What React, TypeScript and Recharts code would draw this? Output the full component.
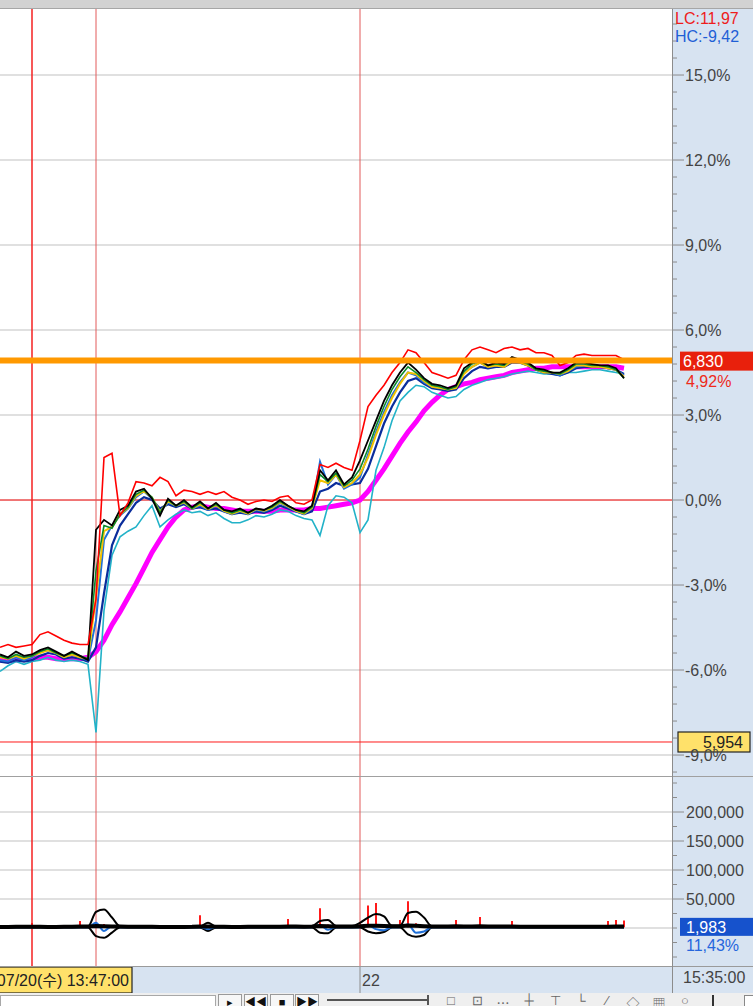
import React from "react";
import { ComposedChart, Line, Bar, XAxis, YAxis, ReferenceLine } from "recharts";

const FONT = "'Liberation Sans', 'Noto Sans CJK KR', sans-serif";
const AXIS_X = 672;
const PANEL = "#d7e3f1";

// time slots (one per 8px column), 0..78
const slots = Array.from({ length: 79 }, (_, i) => i);

// price moving averages, % change vs. previous close
const red = [
  -5.2, -5.1, -5.2, -5.15, -5.1, -4.75, -4.65, -4.8, -4.95, -5.05, -5.1, -5.1,
  -3.5, 1.5, 1.65, -0.55, -0.1, 0.65, 0.6, 0.5, 0.8, 0.65, 0.15, 0.35, 0.3, 0.2, 0.3, 0.2, 0.3, 0.1, 0, -0.15, -0.05, 0, -0.05, 0.1, 0.15, -0.1, -0.15, 0,
  1.25, 1.15, 1.3, 1.15, 1.05, 2.1, 3.3, 3.7, 4.05, 4.5, 4.85, 5.3, 5.2, 4.85, 4.5, 4.4, 4.3, 4.4, 4.95, 5.3, 5.4, 5.3, 5.2, 5.35, 5.4, 5.3, 5.35, 5.2, 5.2, 5.1, 4.75, 4.85, 5.1, 5.15, 5.1, 5.1, 5.1, 5.1, 4.95,
];
const black = [
  -5.45, -5.55, -5.35, -5.5, -5.45, -5.3, -5.2, -5.35, -5.5, -5.35, -5.5, -5.65,
  -1.05, -0.7, -0.9, -0.35, -0.2, 0.3, 0.4, 0.05, -0.55, 0.05, -0.2, 0, -0.25, -0.05, -0.3, -0.1, -0.35, -0.4, -0.3, -0.45, -0.3, -0.35, -0.2, 0, -0.2, -0.35, -0.4, -0.2,
  1.05, 0.7, 1.05, 0.55, 0.8, 1.4, 2.1, 2.8, 3.5, 4.05, 4.5, 4.85, 4.6, 4.3, 4.1, 4.05, 3.95, 4.05, 4.65, 4.85, 4.95, 4.75, 4.85, 4.8, 5.05, 4.95, 4.85, 4.65, 4.6, 4.5, 4.5, 4.65, 4.85, 4.85, 4.8, 4.75, 4.75, 4.65, 4.3,
];
const green = [
  -5.5, -5.6, -5.45, -5.55, -5.5, -5.35, -5.25, -5.4, -5.5, -5.4, -5.5, -5.6,
  -2.5, -0.9, -1.0, -0.5, -0.25, 0.2, 0.35, 0.1, -0.45, 0, -0.2, -0.05, -0.3, -0.1, -0.3, -0.15, -0.35, -0.45, -0.35, -0.45, -0.3, -0.35, -0.25, -0.05, -0.2, -0.35, -0.45, -0.25,
  0.9, 0.65, 0.95, 0.5, 0.7, 1.1, 1.8, 2.6, 3.3, 3.9, 4.35, 4.7, 4.5, 4.25, 4.05, 4.0, 3.9, 4.0, 4.55, 4.8, 4.9, 4.75, 4.8, 4.75, 5.0, 4.9, 4.8, 4.6, 4.55, 4.5, 4.45, 4.6, 4.8, 4.8, 4.75, 4.75, 4.7, 4.6, 4.3,
];
const yellow = [
  -5.55, -5.6, -5.5, -5.6, -5.5, -5.4, -5.3, -5.4, -5.55, -5.45, -5.55, -5.6,
  -3.4, -1.1, -0.95, -0.5, -0.28, 0.15, 0.32, 0.08, -0.42, -0.05, -0.2, -0.08, -0.3, -0.15, -0.32, -0.18, -0.38, -0.48, -0.38, -0.48, -0.32, -0.38, -0.28, -0.08, -0.22, -0.38, -0.48, -0.28,
  0.7, 0.6, 0.9, 0.45, 0.6, 0.9, 1.5, 2.3, 3.0, 3.6, 4.1, 4.5, 4.45, 4.2, 4.0, 3.95, 3.9, 3.95, 4.45, 4.7, 4.85, 4.7, 4.75, 4.7, 4.9, 4.85, 4.75, 4.6, 4.5, 4.5, 4.45, 4.55, 4.75, 4.75, 4.7, 4.7, 4.65, 4.6, 4.35,
];
const blue = [
  -5.65, -5.7, -5.55, -5.65, -5.55, -5.35, -5.3, -5.4, -5.55, -5.45, -5.55, -5.65,
  -4.25, -1.4, -0.9, -0.55, -0.3, 0.1, 0.3, 0.05, -0.4, -0.1, -0.2, -0.1, -0.3, -0.2, -0.35, -0.2, -0.4, -0.5, -0.4, -0.5, -0.35, -0.4, -0.3, -0.1, -0.25, -0.4, -0.5, -0.3,
  1.35, 0.55, 0.9, 0.4, 0.55, 0.8, 1.6, 2.4, 3.1, 3.7, 4.15, 4.5, 4.4, 4.15, 4.0, 3.95, 3.9, 4.0, 4.5, 4.7, 4.85, 4.7, 4.75, 4.75, 4.95, 4.9, 4.75, 4.6, 4.5, 4.5, 4.4, 4.55, 4.7, 4.75, 4.75, 4.7, 4.65, 4.6, 4.4,
];
const navy = [
  -5.7, -5.75, -5.65, -5.7, -5.65, -5.5, -5.4, -5.45, -5.6, -5.55, -5.6, -5.7,
  -5.2, -3.3, -1.6, -0.9, -0.5, -0.1, 0.1, 0, -0.3, -0.15, -0.25, -0.15, -0.3, -0.25, -0.35, -0.3, -0.4, -0.5, -0.45, -0.5, -0.4, -0.45, -0.35, -0.2, -0.3, -0.4, -0.5, -0.4,
  0.3, 0.4, 0.6, 0.5, 0.55, 0.6, 1.1, 1.9, 2.7, 3.3, 3.8, 4.2, 4.3, 4.1, 3.95, 3.9, 3.85, 3.9, 4.3, 4.55, 4.7, 4.65, 4.7, 4.7, 4.85, 4.85, 4.75, 4.6, 4.5, 4.45, 4.4, 4.5, 4.65, 4.7, 4.7, 4.7, 4.65, 4.6, 4.45,
];
const cyan = [
  -6.05, -5.85, -5.7, -5.8, -5.7, -5.65, -5.55, -5.65, -5.7, -5.65, -5.7, -5.8,
  -8.2, -3.9, -1.95, -1.3, -1.1, -0.95, -0.55, -0.2, -0.95, -0.7, -0.5, -0.35, -0.45, -0.4, -0.55, -0.45, -0.65, -0.8, -0.8, -0.7, -0.55, -0.6, -0.5, -0.35, -0.4, -0.55, -0.65, -0.7,
  -1.25, -0.2, 0.15, 0.1, -0.1, -1.15, -0.7, 1.05, 1.85, 2.8, 3.5, 3.8, 4.05, 4.0, 3.8, 3.7, 3.6, 3.65, 3.9, 4.05, 4.15, 4.25, 4.3, 4.35, 4.45, 4.5, 4.55, 4.5, 4.45, 4.45, 4.4, 4.5, 4.5, 4.55, 4.6, 4.6, 4.55, 4.5, 4.45,
];
const magenta = [
  -5.65, -5.65, -5.65, -5.6, -5.6, -5.55, -5.55, -5.6, -5.6, -5.6, -5.6, -5.55,
  -5.35, -4.95, -4.4, -3.95, -3.45, -2.95, -2.4, -1.85, -1.4, -0.95, -0.6, -0.35, -0.25, -0.2, -0.25, -0.3, -0.3, -0.35, -0.4, -0.4, -0.4, -0.4, -0.4, -0.35, -0.35, -0.35, -0.35, -0.3,
  -0.3, -0.25, -0.2, -0.15, -0.1, 0, 0.3, 0.7, 1.1, 1.55, 2.0, 2.4, 2.75, 3.15, 3.45, 3.7, 3.9, 4.0, 4.1, 4.15, 4.25, 4.3, 4.35, 4.4, 4.5, 4.55, 4.6, 4.65, 4.65, 4.7, 4.7, 4.7, 4.7, 4.7, 4.7, 4.7, 4.7, 4.7, 4.65,
];

// lower pane
const volBar = [
  2000, 1800, 2200, 2500, 8600, 2400, 2000, 1800, 2600, 2200, 12000, 3000,
  9000, 7000, 5000, 3000, 2500, 2200, 3800, 2000, 2500, 2000, 1800, 2200, 2000, 22000, 4000, 2500, 2000, 1800, 2200, 2000, 2400, 2000, 2600, 2400, 15500, 3000, 2500, 3500,
  34000, 6000, 4500, 3000, 3500, 9000, 39000, 43000, 6000, 4000, 14000, 46000, 8000, 5000, 3000, 2500, 3500, 14000, 4000, 3500, 19000, 4000, 3000, 2500, 12000, 2500, 2000, 2200, 2500, 2000, 1800, 2000, 2200, 2000, 2500, 3000, 12000, 14000, 13000,
];
const volBase = [
  1800, 1900, 2000, 2100, 2300, 2000, 1900, 1800, 2000, 2100, 2400, 2600,
  3500, 3200, 2800, 2400, 2200, 2000, 2100, 2000, 1900, 1900, 1800, 1900, 2000, 2600, 2800, 2200, 2000, 1900, 1900, 2000, 2000, 2100, 2000, 2100, 2600, 2400, 2300, 2500,
  3600, 3200, 2800, 2600, 2700, 3000, 3800, 4000, 3400, 3000, 3200, 4200, 3800, 3200, 2800, 2600, 2600, 2900, 2800, 2700, 3000, 2800, 2600, 2400, 2600, 2300, 2100, 2100, 2100, 2000, 2000, 2000, 2000, 2000, 2000, 2000, 2200, 2400, 2400,
];
const volUp = [
  2500, 2500, 2500, 2500, 2500, 2500, 2500, 2500, 2500, 2500, 2500, 2500,
  28000, 32000, 18000, 3000, 3000, 3000, 3000, 3000, 3000, 3000, 3000, 3000, 3000, 3000, 9000, 3000, 3000, 3000, 3000, 3000, 3000, 3000, 3000, 3000, 3000, 3000, 3000, 3000,
  12000, 14000, 3500, 3500, 3500, 9000, 18000, 24000, 20000, 4000, 4000, 26000, 28000, 18000, 3000, 3000, 3000, 3000, 3000, 3000, 3000, 3000, 3000, 3000, 3000, 3000, 3000, 3000, 3000, 3000, 3000, 3000, 3000, 3000, 3000, 3000, 3000, 3000, 3000,
];
const volDn = [
  800, 800, 800, 800, 800, 800, 800, 800, 800, 800, 800, 800,
  -14000, -17000, -8000, 800, 800, 800, 800, 800, 800, 800, 800, 800, 800, 800, -5000, 800, 800, 800, 800, 800, 800, 800, 800, 800, 800, 800, 800, 800,
  -8000, -9000, 800, 800, 800, 800, -6000, -9000, -7000, 800, 800, -11000, -15000, -12000, 800, 800, 800, 800, 800, 800, 800, 800, 800, 800, 800, 800, 800, 800, 800, 800, 800, 800, 800, 800, 800, 800, 800, 800, 800,
];
const volBlue = [
  1500, 1500, 1500, 1500, 1500, 1500, 1500, 1500, 1500, 1500, 1500, 1500,
  9000, -5000, 3000, 1500, 1500, 1500, 1500, 1500, 1500, 1500, 1500, 1500, 1500, 1500, -2000, 1500, 1500, 1500, 1500, 1500, 1500, 1500, 1500, 1500, 1500, 1500, 1500, 1500,
  5000, -3000, 1500, 1500, 1500, 1500, 5000, -2000, -4000, 1500, 1500, 6000, -8000, -6000, 1500, 1500, 1500, 1500, 1500, 1500, 1500, 1500, 1500, 1500, 1500, 1500, 1500, 1500, 1500, 1500, 1500, 1500, 1500, 1500, 1500, 1500, 1500, 1500, 1500,
];

// axis / marker values
const pctLabels = [-9, -6, -3, 0, 3, 6, 9, 12, 15];
const pctTicks = Array.from({ length: 45 }, (_, k) => Math.round((k - 16) * 6) / 10);
const volLabels = [50000, 100000, 150000, 200000];
const volTicks = Array.from({ length: 13 }, (_, k) => (k - 2) * 25000);
const vLines = [4, 12, 45];
const dayBreaks = [{ t: 45, label: "22" }];

const LAST_PRICE = 6830;
const LAST_CHANGE = 4.92;
const CROSS_PRICE = 5954;
const CROSS_CHANGE = -8.54;
const CROSS_SLOT = 12;
const CROSS_TIME = "07/20(수) 13:47:00";
const LAST_TIME = "15:35:00";
const LAST_VOL = 1983;
const VOL_PCT = 11.43;
const LC = 11.97;
const HC = -9.42;

const priceRows = slots.map((t, i) => ({
  t, red: red[i], black: black[i], green: green[i], yellow: yellow[i], blue: blue[i], navy: navy[i], cyan: cyan[i], magenta: magenta[i],
}));
const volRows = slots.map((t, i) => ({
  t, bar: volBar[i], base: volBase[i], up: volUp[i], dn: volDn[i], vb: volBlue[i],
}));

const comma = (v: number, d: number) => v.toFixed(d).replace(".", ",");
const fmtPct = (v: number) => comma(v, 1) + "%";
const fmtNum = (v: number) => v.toLocaleString("en-US");

function PctTick(props: any) {
  const { y, payload } = props;
  const v: number = payload.value;
  const major = pctLabels.includes(v);
  return (
    <g>
      <line x1={AXIS_X} x2={AXIS_X + (major ? 12 : 5)} y1={y} y2={y} stroke="#8c8c8c" />
      {major && (
        <text x={AXIS_X + 13} y={y + 6} fontSize={16} fill="#444">{fmtPct(v)}</text>
      )}
    </g>
  );
}

function VolTick(props: any) {
  const { y, payload } = props;
  const v: number = payload.value;
  const major = volLabels.includes(v);
  return (
    <g>
      <line x1={AXIS_X} x2={AXIS_X + (major ? 12 : 5)} y1={y} y2={y} stroke="#8c8c8c" />
      {major && (
        <text x={AXIS_X + 14} y={y + 6} fontSize={16} fill="#444">{fmtNum(v)}</text>
      )}
    </g>
  );
}

function DayTick(props: any) {
  const { x, payload } = props;
  const day = dayBreaks.find((d) => d.t === payload.value);
  return (
    <g>
      <line x1={x} x2={x} y1={189} y2={216} stroke="#8c8c8c" />
      <text x={x + 2} y={209} fontSize={16} fill="#444">{day ? day.label : ""}</text>
    </g>
  );
}

const lastTag = (p: any) => {
  const x = p.viewBox.x + p.viewBox.width + 8;
  const y = p.viewBox.y;
  return (
    <g>
      <rect x={x} y={y - 9} width={80} height={19} fill="#e8200c" />
      <text x={x + 3} y={y + 6} fontSize={16} fill="#fff">{fmtNum(LAST_PRICE)}</text>
      <text x={x + 6} y={y + 26} fontSize={16} fill="#ee2a1a">{comma(LAST_CHANGE, 2) + "%"}</text>
    </g>
  );
};

const crossTag = (p: any) => {
  const x = p.viewBox.x + p.viewBox.width + 6;
  const y = p.viewBox.y;
  return (
    <g>
      <rect x={x} y={y - 10} width={72} height={20} fill="#ffe16a" stroke="#222" strokeWidth={1.2} />
      <text x={x + 65} y={y + 6} fontSize={16} fill="#222" textAnchor="end">{fmtNum(CROSS_PRICE)}</text>
    </g>
  );
};

const volTag = (p: any) => {
  const x = p.viewBox.x + p.viewBox.width + 8;
  const y = p.viewBox.y;
  return (
    <g>
      <rect x={x} y={y - 9} width={80} height={18} fill="#1652cc" />
      <text x={x + 6} y={y + 6} fontSize={16} fill="#fff">{fmtNum(LAST_VOL)}</text>
      <text x={x + 6} y={y + 24} fontSize={16} fill="#2566dd">{comma(VOL_PCT, 2) + "%"}</text>
    </g>
  );
};

const timeTag = (p: any) => {
  const x = p.viewBox.x;
  const y = p.viewBox.y + p.viewBox.height;
  return (
    <g>
      <rect x={-40} y={y + 1} width={x + 36 + 40} height={26} fill="#ffe16a" stroke="#222" strokeWidth={1.2} />
      <text x={x + 33} y={y + 20} fontSize={16} fill="#222" textAnchor="end">{CROSS_TIME}</text>
    </g>
  );
};

const thin = { dot: false, isAnimationActive: false, strokeWidth: 1.6, type: "linear" as const };

function Toolbar() {
  const btn = (left: number, w: number, glyph: string) => (
    <div style={{ position: "absolute", left, top: 1, width: w, height: 14, border: "1px solid #9a9a9a", background: "#f7f7f7", fontSize: 11, lineHeight: "14px", textAlign: "center", color: "#111" }}>{glyph}</div>
  );
  const icons = ["□", "⊡", "⋯", "┼", "⊤", "└", "∕", "◇", "▦", "○"];
  return (
    <div style={{ position: "absolute", left: 0, top: 993, width: 753, height: 13, background: "#efefef", overflow: "hidden" }}>
      <div style={{ position: "absolute", left: 0, top: 2, width: 214, height: 14, background: "#fff", border: "1px solid #a8a8a8" }} />
      {btn(218, 22, "▸")}
      {btn(244, 22, "◀◀")}
      {btn(270, 22, "■")}
      {btn(295, 22, "▶▶")}
      <div style={{ position: "absolute", left: 327, top: 6, width: 100, height: 2, background: "#555" }} />
      <div style={{ position: "absolute", left: 427, top: 2, width: 2, height: 10, background: "#555" }} />
      {icons.map((g, i) => (
        <div key={i} style={{ position: "absolute", left: 440 + i * 26, top: 0, width: 22, fontSize: 13, color: "#666", textAlign: "center" }}>{g}</div>
      ))}
      <div style={{ position: "absolute", left: 712, top: 2, width: 2, height: 11, background: "#333" }} />
      <div style={{ position: "absolute", left: 744, top: 2, width: 8, height: 12, border: "1px solid #888", background: "#fff" }} />
    </div>
  );
}

export default function App() {
  return (
    <div style={{ position: "absolute", left: 0, top: 0, width: 753, height: 1006, background: "#fff", overflow: "hidden", fontFamily: FONT }}>
      <div style={{ position: "absolute", left: 0, top: 0, width: 753, height: 8, background: "#d2d2d2", borderBottom: "1px solid #a6a6a6" }} />
      <div style={{ position: "absolute", left: AXIS_X, top: 9, width: 81, height: 957, background: PANEL }} />
      <div style={{ position: "absolute", left: 0, top: 966, width: 753, height: 27, background: PANEL }} />

      <div style={{ position: "absolute", left: 0, top: 9 }}>
        <ComposedChart width={753} height={767} data={priceRows} margin={{ top: 0, right: 0, bottom: 0, left: 0 }}>
          <XAxis type="number" dataKey="t" domain={[0, 84]} allowDataOverflow hide />
          <YAxis orientation="right" width={81} domain={[-9.74, 17.33]} allowDataOverflow ticks={pctTicks} interval={0} tickLine={false} axisLine={false} tick={<PctTick />} />
          {pctLabels.map((v) => (
            <ReferenceLine key={v} y={v} stroke="#d6d6d6" strokeWidth={1.5} />
          ))}
          <ReferenceLine y={0} stroke="#ff1010" />
          {vLines.map((t, i) => (
            <ReferenceLine key={t} x={t} stroke={i === 0 ? "#f52020" : "#e25a5a"} strokeWidth={i === 0 ? 1.5 : 1} />
          ))}
          <Line dataKey="magenta" stroke="#ff00ff" strokeWidth={5} dot={false} isAnimationActive={false} />
          <Line dataKey="cyan" stroke="#22b2c8" {...thin} />
          <Line dataKey="navy" stroke="#0a2d9c" {...thin} strokeWidth={2.2} />
          <Line dataKey="blue" stroke="#2070d8" {...thin} strokeWidth={2} />
          <Line dataKey="yellow" stroke="#f2c200" {...thin} strokeWidth={2} />
          <Line dataKey="green" stroke="#0a8a2a" {...thin} />
          <Line dataKey="black" stroke="#000" {...thin} strokeWidth={1.8} />
          <Line dataKey="red" stroke="#ff0000" {...thin} />
          <ReferenceLine y={LAST_CHANGE} stroke="#ff9900" strokeWidth={6} label={lastTag} />
          <ReferenceLine y={CROSS_CHANGE} stroke="#ff1a1a" label={crossTag} />
        </ComposedChart>
      </div>

      <div style={{ position: "absolute", left: 0, top: 776, width: 753, height: 1, background: "#a0a0a0" }} />

      <div style={{ position: "absolute", left: 0, top: 777 }}>
        <ComposedChart width={753} height={216} data={volRows} margin={{ top: 0, right: 0, bottom: 0, left: 0 }}>
          <XAxis type="number" dataKey="t" domain={[0, 84]} allowDataOverflow height={27} ticks={dayBreaks.map((d) => d.t)} interval={0} tickLine={false} axisLine={false} tick={<DayTick />} />
          <YAxis orientation="right" width={81} domain={[-65517, 260345]} allowDataOverflow ticks={volTicks} interval={0} tickLine={false} axisLine={false} tick={<VolTick />} />
          {[0, ...volLabels].map((v) => (
            <ReferenceLine key={v} y={v} stroke="#d6d6d6" strokeWidth={1.5} />
          ))}
          {vLines.map((t, i) => (
            <ReferenceLine key={t} x={t} stroke={i === 0 ? "#f52020" : "#e25a5a"} strokeWidth={i === 0 ? 1.5 : 1} label={t === CROSS_SLOT ? timeTag : undefined} />
          ))}
          <Bar dataKey="bar" fill="#ff1a1a" barSize={2} isAnimationActive={false} />
          <Line dataKey="up" stroke="#000" strokeWidth={2} dot={false} type="monotone" isAnimationActive={false} />
          <Line dataKey="dn" stroke="#000" strokeWidth={2} dot={false} type="monotone" isAnimationActive={false} />
          <Line dataKey="vb" stroke="#2070d8" strokeWidth={2} dot={false} type="monotone" isAnimationActive={false} />
          <Line dataKey="base" stroke="#000" strokeWidth={4} dot={false} isAnimationActive={false} />
          <ReferenceLine y={LAST_VOL} stroke="none" label={volTag} />
        </ComposedChart>
      </div>

      <div style={{ position: "absolute", left: 0, top: 966, width: 753, height: 1, background: "#9a9a9a" }} />
      <div style={{ position: "absolute", left: AXIS_X, top: 9, width: 1, height: 984, background: "#8c8c8c" }} />
      <div style={{ position: "absolute", left: 683, top: 969, fontSize: 16, color: "#444" }}>{LAST_TIME}</div>
      <div style={{ position: "absolute", left: 675, top: 10, fontSize: 16, color: "#ee1c1c" }}>{"LC:" + comma(LC, 2)}</div>
      <div style={{ position: "absolute", left: 675, top: 28, fontSize: 16, color: "#1f5fd6" }}>{"HC:" + comma(HC, 2)}</div>
      <Toolbar />
    </div>
  );
}
